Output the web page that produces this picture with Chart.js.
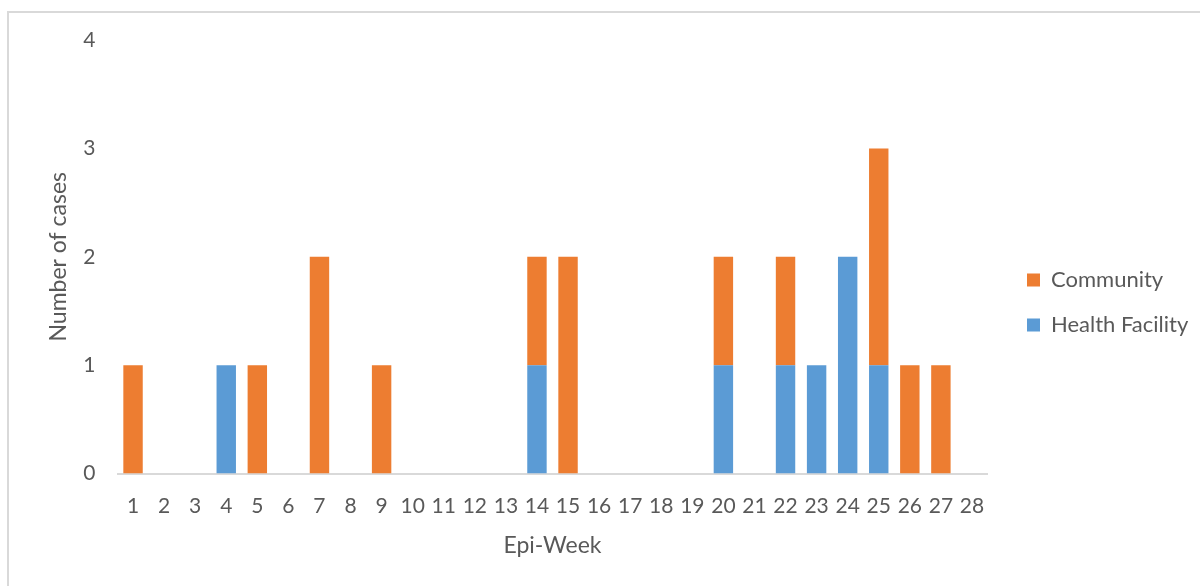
<!DOCTYPE html>
<html>
<head>
<meta charset="utf-8">
<script src="https://cdn.jsdelivr.net/npm/chart.js@4/dist/chart.umd.min.js"></script>
<style>
  html, body { margin: 0; padding: 0; background: #fff; overflow: hidden; }
  #frame { position: absolute; left: 7px; top: 11px; width: 1300px; height: 700px; border: 2px solid #d9d9d9; box-sizing: border-box; }
  #wrap { position: absolute; left: 0; top: 0; width: 1200px; height: 586px; }
</style>
</head>
<body>
<div id="frame"></div>
<div id="wrap"><canvas id="c" width="1200" height="586"></canvas></div>
<script>
const weeks = ["1","2","3","4","5","6","7","8","9","10","11","12","13","14","15","16","17","18","19","20","21","22","23","24","25","26","27","28"];
const healthFacility = [0,0,0,1,0,0,0,0,0,0,0,0,0,1,0,0,0,0,0,1,0,1,1,2,1,0,0,0];
const community      = [1,0,0,0,1,0,2,0,1,0,0,0,0,1,2,0,0,0,0,1,0,1,0,0,2,1,1,0];
const yTicks = [0,1,2,3,4];

const FONT = "Lato";
const TXT = "#595959";

const legendPlace = {
  id: "legendPlace",
  beforeLayout(chart) {
    const l = chart.legend;
    if (l && !l._patchedFit) {
      const orig = l.fit.bind(l);
      l.fit = function () { orig(); this.width = 212.5; };
      l._patchedFit = true;
    }
  },
  afterLayout(chart) {
    const l = chart.legend;
    if (!l) return;
    const pad = l.options.labels.padding;
    const fs = l.options.labels.font.size || 22;
    const dx = 1027 - (l.left + pad);
    const dy = (280 - fs / 2 - pad) - l.top;
    l.left += dx; l.right += dx;
    l.top += dy; l.bottom += dy;
  }
};

new Chart(document.getElementById("c"), {
  type: "bar",
  data: {
    labels: weeks,
    datasets: [
      { label: "Health Facility", data: healthFacility, backgroundColor: "#5B9BD5", borderWidth: 0 },
      { label: "Community", data: community, backgroundColor: "#ED7D31", borderWidth: 0 }
    ]
  },
  options: {
    responsive: false,
    animation: false,
    devicePixelRatio: 1,
    layout: { padding: { left: 0, top: 40, right: 0, bottom: 0 } },
    datasets: { bar: { barPercentage: 0.625, categoryPercentage: 1.0 } },
    plugins: {
      legend: {
        position: "right",
        align: "start",
        reverse: true,
        labels: {
          boxWidth: 13, boxHeight: 13, padding: 23,
          color: TXT, font: { family: FONT, size: 22 }
        }
      },
      tooltip: { enabled: false }
    },
    scales: {
      x: {
        stacked: true,
        afterFit(axis) { axis.height = 112.5; },
        grid: { display: false, drawTicks: false },
        border: { display: true, color: "#d9d9d9", width: 2 },
        ticks: { color: TXT, font: { family: FONT, size: 21 }, padding: 20, maxRotation: 0, autoSkip: false },
        title: { display: true, text: "Epi-Week", color: TXT, font: { family: FONT, size: 23 }, padding: { top: 0, bottom: 27 } }
      },
      y: {
        stacked: true,
        min: 0, max: 4,
        afterFit(axis) { axis.width = 117.5; },
        afterBuildTicks(axis) { axis.ticks = yTicks.map(v => ({ value: v })); },
        grid: { display: false, drawTicks: false },
        border: { display: false },
        ticks: { color: TXT, font: { family: FONT, size: 21 }, padding: 22 },
        title: { display: true, text: "Number of cases", color: TXT, font: { family: FONT, size: 23 }, padding: { top: 45, bottom: 0 } }
      }
    }
  },
  plugins: [legendPlace]
});
</script>
</body>
</html>
